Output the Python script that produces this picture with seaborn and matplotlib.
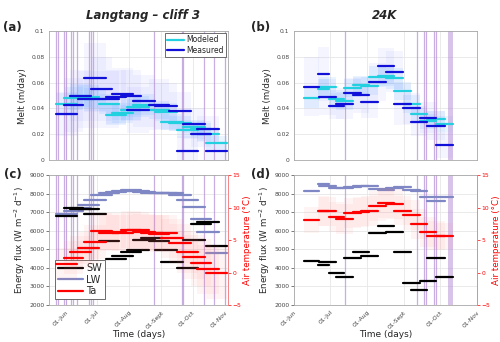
"""
Melt va energy flux: Langtang cliff 3 va 24K (4 panel).
Chay: python plot.py  -> out.png
"""
import matplotlib

matplotlib.use("Agg")
import matplotlib.pyplot as plt
import matplotlib.ticker as mticker
import pandas as pd
import seaborn as sns
from matplotlib.lines import Line2D

nan = float("nan")

# ---- Langtang cliff 3: khoang thoi gian ----
L_START = ["2014-05-23", "2014-05-30", "2014-06-05", "2014-06-13", "2014-06-19",
           "2014-06-25", "2014-07-03", "2014-07-10", "2014-07-16", "2014-07-24",
           "2014-07-30", "2014-08-05", "2014-08-12", "2014-08-20", "2014-08-26",
           "2014-09-01", "2014-09-08", "2014-09-16", "2014-09-22", "2014-09-29",
           "2014-10-05", "2014-10-14"]
L_END = ["2014-06-12", "2014-06-18", "2014-06-25", "2014-07-03", "2014-07-10",
         "2014-07-16", "2014-07-22", "2014-07-29", "2014-08-05", "2014-08-12",
         "2014-08-20", "2014-08-26", "2014-09-03", "2014-09-08", "2014-09-16",
         "2014-09-22", "2014-09-29", "2014-10-06", "2014-10-13", "2014-10-19",
         "2014-10-26", "2014-11-03"]
L_MEAS = [0.036, 0.0426, 0.050, 0.047, 0.064, 0.055, 0.047, 0.049, 0.0513, 0.050,
          0.039, 0.046, nan, 0.043, 0.042, nan, 0.0377, 0.007, 0.028, 0.020,
          0.024, 0.007]
L_MEAS_ERR = [0.017, 0.021, 0.02, 0.022, 0.027, 0.025, 0.022, 0.021, 0.02, 0.02,
              0.018, 0.02, 0.02, 0.02, 0.018, 0.016, 0.015, 0.012, 0.012, 0.01,
              0.01, 0.008]
L_MOD = [0.0433, 0.048, 0.050, 0.049, 0.047, nan, 0.0436, 0.035, 0.0364, 0.039,
         0.0415, 0.043, nan, 0.039, 0.037, 0.0295, 0.0285, 0.023, 0.026, 0.024,
         0.020, 0.0133]
L_MOD_ERR = [0.009, 0.009, 0.009, 0.009, 0.009, 0.009, 0.008, 0.008, 0.008, 0.008,
             0.008, 0.008, 0.008, 0.007, 0.007, 0.006, 0.006, 0.006, 0.005, 0.005,
             0.005, 0.005]
L_SW = [6800, 7250, 7180, 7150, 6900, nan, 5440, 4490, 4640, 4850, 4940, 5530,
        5620, 5440, 4990, 4320, nan, 4010, 5490, 6360, 6450, 5200]
L_LW = [6920, 7050, 7250, 7400, 7660, 7930, 8060, 8110, 8160, 8200, 8160, 8110,
        8060, 8060, 8060, 8020, 7930, 7660, 7300, 6650, 5940, 4820]
L_TA = [1.3, 2.3, 3.2, 3.8, 4.7, 6.35, 6.1, 6.3, 6.1, 6.6, 6.5, 6.2, 6.1, 6.0,
        6.1, 5.3, 4.5, 3.2, 2.4, 1.5, 0.5, -0.1]
L_TA_ERR = [2.5, 2.5, 2.5, 2.5, 2.6, 2.8, 2.8, 2.8, 2.8, 2.8, 2.8, 2.8, 2.8, 2.8,
            2.8, 3.0, 3.0, 3.2, 3.4, 3.6, 3.8, 4.0]
L_EVENTS = ["2014-05-23", "2014-05-25", "2014-05-30", "2014-06-01", "2014-06-06",
            "2014-06-08", "2014-06-12", "2014-06-23", "2014-06-25", "2014-06-27",
            "2014-08-25", "2014-09-21", "2014-09-22", "2014-10-12", "2014-10-22",
            "2014-11-01"]

# ---- 24K ----
K_START = ["2014-06-09", "2014-06-21", "2014-06-22", "2014-06-30", "2014-07-06",
           "2014-07-13", "2014-07-20", "2014-07-27", "2014-08-03", "2014-08-10",
           "2014-08-17", "2014-08-24", "2014-08-31", "2014-09-07", "2014-09-14",
           "2014-09-20", "2014-09-28"]
K_END = ["2014-06-22", "2014-06-30", "2014-07-06", "2014-07-13", "2014-07-20",
         "2014-07-27", "2014-08-03", "2014-08-10", "2014-08-17", "2014-08-24",
         "2014-08-31", "2014-09-07", "2014-09-14", "2014-09-20", "2014-09-28",
         "2014-10-05", "2014-10-12"]
K_MEAS = [0.057, 0.067, 0.0487, 0.042, 0.0436, 0.0518, 0.0505, 0.045, 0.0605,
          0.073, 0.0685, 0.0433, 0.040, 0.0297, 0.033, 0.0267, 0.0115]
K_MEAS_ERR = [0.023, 0.021, 0.014, 0.01, 0.012, 0.012, 0.014, 0.012, 0.015, 0.014,
              0.016, 0.016, 0.012, 0.011, 0.012, 0.011, 0.01]
K_MOD = [0.0485, 0.055, 0.0565, 0.0474, 0.046, 0.0556, 0.058, 0.0575, 0.0646,
         0.0654, 0.0633, 0.0536, 0.0433, 0.036, 0.030, 0.0318, 0.028]
K_MOD_ERR = [0.008, 0.008, 0.008, 0.007, 0.007, 0.007, 0.007, 0.007, 0.008, 0.008,
             0.008, 0.007, 0.007, 0.006, 0.006, 0.006, 0.006]
K_SW = [4370, 4150, 4320, 3710, 3510, 4550, 4850, 4640, 5880, 6240, 5950, 4850,
        3180, 2820, 3280, 4510, 3510]
K_LW = [8160, 8540, 8420, 8320, 8290, 8340, 8410, 8430, 8230, 8200, 8290, 8380,
        8200, 8160, 7800, 7630, 7840]
K_TA = [8.1, 9.5, 9.4, 8.6, 8.3, 9.15, 9.3, 9.5, 10.2, 10.7, 10.6, 9.55, 8.9, 7.5,
        6.25, 5.7, 5.6]
K_TA_ERR = [2.0, 2.3, 2.3, 2.3, 2.3, 2.3, 2.3, 2.3, 2.3, 2.3, 2.3, 2.3, 2.3, 2.3,
            2.3, 2.2, 2.0]
K_EVENTS = ["2014-07-14", "2014-09-12", "2014-09-18", "2014-09-19", "2014-09-26",
            "2014-09-28"]
K_BAND = ("2014-10-08", "2014-10-12")

MONTH_TICKS = ["2014-06-01", "2014-07-01", "2014-08-01", "2014-09-01",
               "2014-10-01", "2014-11-01"]
MONTH_LABELS = ["01-Jun", "01-Jul", "01-Aug", "01-Sept", "01-Oct", "01-Nov"]

C_MEAS = "#1010d8"
C_MOD = "#22d0e0"
C_LW = "#7f88c4"
C_EVENT = "#b894d8"
C_GRAY = "#a8a8a8"

sns.set_theme(style="whitegrid")
plt.rcParams["font.family"] = ["DejaVu Sans"]


def segments(ax, starts, ends, values, color, lw=1.6):
    rows = []
    for i, (s, e, v) in enumerate(zip(starts, ends, values)):
        if pd.isna(v):
            continue
        rows.append({"seg": i, "date": pd.Timestamp(s), "value": v})
        rows.append({"seg": i, "date": pd.Timestamp(e), "value": v})
    df = pd.DataFrame(rows)
    sns.lineplot(data=df, x="date", y="value", units="seg", estimator=None,
                 color=color, lw=lw, ax=ax, legend=False)


def boxes(ax, starts, ends, values, errs, color, alpha):
    for s, e, v, d in zip(starts, ends, values, errs):
        if pd.isna(v):
            continue
        ax.fill_between([pd.Timestamp(s), pd.Timestamp(e)], v - d, v + d,
                        color=color, alpha=alpha, lw=0, zorder=1)


def style_axis(ax, xlim):
    ax.set_xlim(pd.Timestamp(xlim[0]), pd.Timestamp(xlim[1]))
    ax.set_xticks([pd.Timestamp(t) for t in MONTH_TICKS])
    ax.grid(True, color="#e6e6e6", lw=0.6)
    for sp in ax.spines.values():
        sp.set_color(C_GRAY)
        sp.set_linewidth(0.6)
    ax.tick_params(labelsize=4.3, colors="#444444", length=2, width=0.5,
                   pad=1.2)
    ax.set_xlabel("")


def events(ax, dates, band=None):
    for d in dates:
        ax.axvline(pd.Timestamp(d), color=C_EVENT, lw=0.9, alpha=0.75, zorder=2)
    if band is not None:
        ax.axvspan(pd.Timestamp(band[0]), pd.Timestamp(band[1]), color=C_EVENT,
                   alpha=0.55, lw=0, zorder=2)


def melt_panel(ax, st, en, meas, merr, mod, moderr, ev, xlim, band=None):
    boxes(ax, st, en, meas, merr, "#7a7aff", 0.07)
    boxes(ax, st, en, mod, moderr, "#3a9cff", 0.10)
    events(ax, ev, band)
    segments(ax, st, en, mod, C_MOD)
    segments(ax, st, en, meas, C_MEAS)
    ax.set_ylim(0, 0.1)
    ax.set_yticks([0, 0.02, 0.04, 0.06, 0.08, 0.1])
    ax.yaxis.set_major_formatter(mticker.FuncFormatter(lambda v, p: f"{v:g}"))
    style_axis(ax, xlim)
    ax.set_xticklabels([])
    ax.set_ylabel("Melt (m/day)", fontsize=6.3, labelpad=3)


def flux_panel(ax, st, en, sw, lw, ta, taerr, ev, xlim, band=None):
    events(ax, ev, band)
    segments(ax, st, en, lw, C_LW)
    segments(ax, st, en, sw, "black")
    ax.set_ylim(2000, 9000)
    ax.set_yticks(range(2000, 9001, 1000))
    style_axis(ax, xlim)
    ax.set_xticklabels(MONTH_LABELS, rotation=45, ha="right",
                       rotation_mode="anchor")
    ax.set_xlabel("Time (days)", fontsize=6.5, labelpad=0)
    ax.set_ylabel("Energy flux (W m$^{-2}$ d$^{-1}$)", fontsize=6.3, labelpad=2)

    tx = ax.twinx()
    boxes(tx, st, en, ta, taerr, "#ff6b6b", 0.07)
    segments(tx, st, en, ta, "red")
    tx.set_ylim(-5, 15)
    tx.set_yticks([-5, 0, 5, 10, 15])
    tx.grid(False)
    for sp in tx.spines.values():
        sp.set_visible(False)
    tx.spines["right"].set_visible(True)
    tx.spines["right"].set_color("#ff8080")
    tx.spines["right"].set_linewidth(0.6)
    tx.tick_params(axis="y", labelsize=4.3, colors="red", length=2, width=0.5,
                   pad=1.2)
    tx.set_ylabel("Air temperature (°C)", fontsize=6.3, color="red", labelpad=1)
    tx.set_xlabel("")
    return tx


fig = plt.figure(figsize=(5.0, 3.42), dpi=100)
ax_a = fig.add_axes([0.098, 0.532, 0.358, 0.377])
ax_b = fig.add_axes([0.588, 0.532, 0.366, 0.377])
ax_c = fig.add_axes([0.098, 0.108, 0.358, 0.380])
ax_d = fig.add_axes([0.588, 0.108, 0.366, 0.380])

L_XLIM = ("2014-05-16", "2014-11-04")
K_XLIM = ("2014-06-09", "2014-10-27")

melt_panel(ax_a, L_START, L_END, L_MEAS, L_MEAS_ERR, L_MOD, L_MOD_ERR,
           L_EVENTS, L_XLIM)
melt_panel(ax_b, K_START, K_END, K_MEAS, K_MEAS_ERR, K_MOD, K_MOD_ERR,
           K_EVENTS, K_XLIM, band=K_BAND)
flux_panel(ax_c, L_START, L_END, L_SW, L_LW, L_TA, L_TA_ERR, L_EVENTS, L_XLIM)
flux_panel(ax_d, K_START, K_END, K_SW, K_LW, K_TA, K_TA_ERR, K_EVENTS, K_XLIM,
           band=K_BAND)

# legend
leg = ax_a.legend(handles=[Line2D([], [], color=C_MOD, lw=1.6, label="Modeled"),
                           Line2D([], [], color=C_MEAS, lw=1.6, label="Measured")],
                  loc="upper right", fontsize=5.5, frameon=True, fancybox=False,
                  handlelength=2.2, handletextpad=0.3, borderpad=0.3,
                  labelspacing=0.2, borderaxespad=0.25, framealpha=1)
leg.get_frame().set_edgecolor("#555555")
leg.get_frame().set_linewidth(0.6)
leg.set_zorder(10)
leg = ax_c.legend(handles=[Line2D([], [], color="black", lw=1.6, label="SW"),
                           Line2D([], [], color=C_LW, lw=1.6, label="LW"),
                           Line2D([], [], color="red", lw=1.6, label="Ta")],
                  loc="lower left", fontsize=7, frameon=True, fancybox=False,
                  handlelength=2.6, handletextpad=0.3, borderpad=0.3,
                  labelspacing=0.15, borderaxespad=0.6, framealpha=1)
leg.get_frame().set_edgecolor("#555555")
leg.get_frame().set_linewidth(0.6)
leg.set_zorder(10)

# tieu de va nhan panel
fig.text(0.285, 0.955, "Langtang – cliff 3", fontsize=8.5, fontweight="bold",
         fontstyle="italic", ha="center", va="center")
fig.text(0.770, 0.955, "24K", fontsize=8.5, fontweight="bold",
         fontstyle="italic", ha="center", va="center")
for x, y, s in [(0.025, 0.92, "(a)"), (0.522, 0.92, "(b)"),
                (0.025, 0.49, "(c)"), (0.522, 0.49, "(d)")]:
    fig.text(x, y, s, fontsize=8.5, fontweight="bold", ha="center", va="center")

fig.savefig("out.png", dpi=100)
